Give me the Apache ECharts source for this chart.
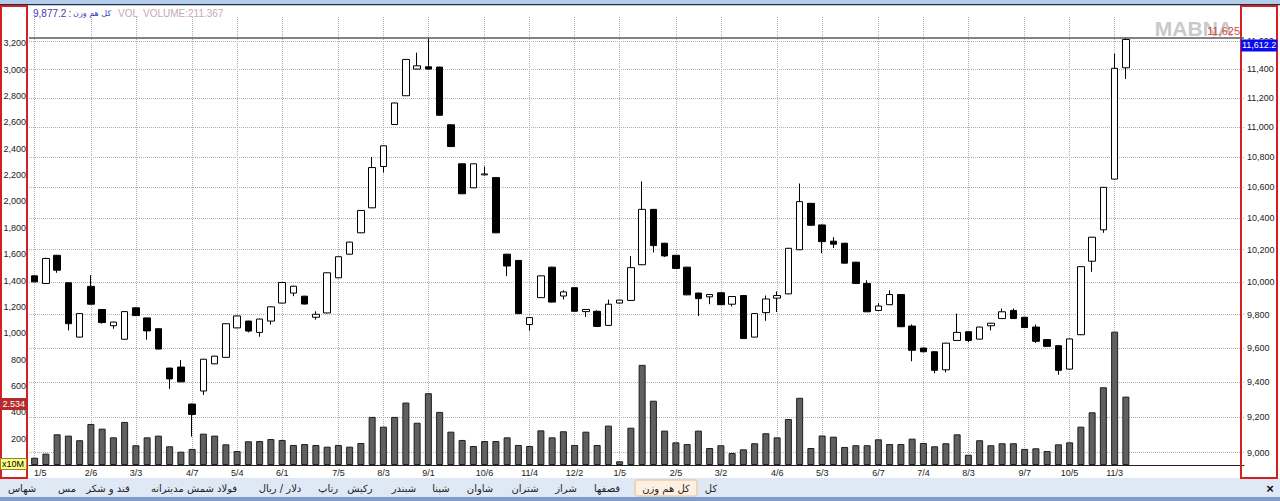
<!DOCTYPE html>
<html><head><meta charset="utf-8">
<script src="https://cdn.jsdelivr.net/npm/echarts@6/dist/echarts.min.js"></script>
<style>html,body{margin:0;padding:0;background:#fff;overflow:hidden}#c{width:1280px;height:501px}</style>
</head><body><div id="c"></div><script>
// ---- data ----
const tickLabels = ['1/5','2/6','3/3','4/7','5/4','6/1','7/5','8/3','9/1','10/6','11/4','12/2','1/5','2/5','3/2','4/6','5/3','6/7','7/4','8/3','9/7','10/5','11/3'];
const tickIndex  = [0,5,9,14,18,22,27,31,35,40,44,48,52,57,61,66,70,75,79,83,88,92,96];
const slotCount = 108;
const openP  = [10037,9990,10165,9994,9665,9972,9831,9733,9652,9841,9780,9715,9482,9488,9274,9349,9507,9545,9720,9761,9693,9761,9870,9931,9912,9784,9810,10025,10172,10307,10467,10737,11019,11216,11402,11418,11416,11017,10755,10597,10682,10664,10172,10133,9740,9903,10091,9913,9964,9818,9820,9735,9870,9886,10106,10457,10241,10165,10091,9931,9908,9933,9863,9916,9665,9812,9900,9926,10200,10496,10357,10254,10241,10122,9990,9825,9860,9922,9731,9600,9578,9472,9645,9697,9653,9733,9776,9825,9784,9725,9650,9614,9476,9679,10128,10326,10654,11411];
const closeP = [10000,10145,10072,9745,9806,9863,9752,9755,9818,9794,9702,9594,9419,9402,9215,9534,9552,9745,9792,9701,9773,9847,9996,9973,9864,9802,10056,10156,10248,10450,10730,10875,11166,11470,11425,11402,11082,10870,10558,10755,10688,10307,10098,9806,9782,10037,9876,9938,9820,9831,9729,9863,9888,10088,10457,10226,10161,10083,9920,9897,9922,9860,9910,9656,9806,9895,9916,10209,10507,10355,10251,10235,10116,9990,9817,9852,9922,9727,9587,9578,9469,9629,9693,9645,9725,9748,9817,9776,9722,9640,9610,9469,9654,10094,10279,10600,11407,11612.2];
const lowP   = [9998,9988,10056,9705,9663,9860,9746,9715,9650,9792,9650,9592,9361,9400,9090,9326,9505,9543,9718,9693,9667,9740,9868,9912,9862,9770,9808,10023,10170,10305,10465,10697,11017,11214,11400,11398,11080,10868,10556,10595,10678,10305,10035,9804,9704,9901,9874,9892,9818,9786,9727,9733,9868,9884,10104,10183,10155,10081,9918,9792,9863,9858,9850,9654,9663,9763,9816,9924,10198,10353,10178,10211,10114,9988,9815,9823,9858,9725,9522,9575,9451,9457,9643,9635,9651,9705,9774,9774,9720,9630,9608,9443,9474,9677,10062,10307,10652,11333];
const highP  = [10040,10150,10168,9996,9808,10041,9833,9757,9820,9843,9782,9717,9484,9529,9276,9536,9554,9747,9794,9763,9775,9849,9998,9975,9914,9820,10058,10158,10250,10452,10800,10877,11168,11472,11518,11625,11418,11019,10757,10757,10737,10666,10174,10135,9784,10039,10093,9948,9966,9833,9826,9891,9890,10160,10639,10459,10243,10167,10093,9933,9925,9935,9912,9918,9808,9916,9941,10211,10625,10498,10359,10279,10243,10124,10010,9870,9948,9924,9741,9602,9582,9631,9806,9699,9727,9750,9837,9837,9786,9740,9652,9616,9656,10096,10281,10602,11511,11625];
const volume = [55,86,233,223,188,311,276,210,327,150,210,223,142,101,122,238,223,157,106,180,182,197,190,152,159,152,139,152,139,167,365,291,365,474,321,545,403,253,190,144,182,182,210,152,144,263,210,256,152,253,152,299,28,283,760,488,261,172,159,261,129,150,91,119,165,241,210,349,510,129,224,215,137,150,150,195,159,159,200,167,142,165,233,78,188,150,165,165,122,127,106,157,172,291,400,590,1012,519];
const priceTicks = [9000,9200,9400,9600,9800,10000,10200,10400,10600,10800,11000,11200,11400,11600];
const priceMax = 11625, lastClose = 11612.2, volMarker = 463, volMarkerText = '2.534';
const tabs = ['شهاس','مس','قند و شکر','فولاد شمش مدیترانه','دلار / ریال','رتاپ','رکیش','شبندر','شپنا','شاوان','شتران','شراز','قصفها','کل هم وزن','کل'];
const activeTab = 'کل هم وزن';
const titleValue = '9,877.2';
const titleName = 'کل هم وزن';
const titleVol = 'VOL';
const titleVolume = 'VOLUME:211.367';
// ---- layout (styles/positions) ----
const tabCenters = [22,67,108,194,280,328,360,404,441,480,525,566,607,666,711];
const FONT = 'Tahoma, "DejaVu Sans", sans-serif';
const AFONT = '"Liberation Sans", Arial, sans-serif';
const HIDDEN = {width:0, color:'rgba(0,0,0,0)'};

const cats = []; const labelOf = {};
for (let i = 0; i < slotCount; i++) cats.push('w' + i);
tickIndex.forEach((ix, k) => { labelOf[ix] = tickLabels[k]; });
const candles = openP.map((o, i) => [o, closeP[i], lowP[i], highP[i]]);
const fmt = v => Math.round(v).toLocaleString('en-US');

const chart = echarts.init(document.getElementById('c'), null, {renderer: 'svg'});
const gridLine = {type: 'dotted', color: '#b0b0b0', width: 1};

const graphics = [
  {type:'rect', shape:{x:0,y:0,width:1280,height:4}, style:{fill:'#b4cdeb'}, z:1},
  {type:'rect', shape:{x:0,y:4,width:1280,height:1.2}, style:{fill:'#1c2c4c'}, z:1},
  {type:'rect', shape:{x:0,y:478,width:1280,height:19}, style:{fill:'#dfe9f6'}, z:1},
  {type:'rect', shape:{x:0,y:497,width:1280,height:4}, style:{fill:'#7d9ccb'}, z:1},
  {type:'rect', shape:{x:1,y:6,width:26,height:472}, style:{fill:'none', stroke:'#d42020', lineWidth:2}, z:50},
  {type:'rect', shape:{x:1241,y:6,width:36,height:472}, style:{fill:'none', stroke:'#d42020', lineWidth:2}, z:50},
  {type:'rect', shape:{x:0.5,y:458.5,width:26,height:11}, style:{fill:'#ffff88', stroke:'#8a8a20', lineWidth:1}, z:60},
  {type:'text', x:13, y:464, style:{text:'x10M', font:'9px ' + AFONT, fill:'#000', align:'center', verticalAlign:'middle'}, z:61},
  {type:'text', x:33, y:13, style:{text:titleValue, font:'10px ' + AFONT, fill:'#3a3ab8', align:'left', verticalAlign:'middle'}, z:60},
  {type:'text', x:70, y:13, style:{text:':', font:'10px ' + AFONT, fill:'#3a3ab8', align:'center', verticalAlign:'middle'}, z:60},
  {type:'text', x:73, y:13, style:{text:titleName, font:'8px ' + FONT, fill:'#3a3ab8', align:'left', verticalAlign:'middle'}, z:60},
  {type:'text', x:118, y:13, style:{text:titleVol, font:'10px ' + AFONT, fill:'#c9a6b6', align:'left', verticalAlign:'middle'}, z:60},
  {type:'text', x:143, y:13, style:{text:titleVolume, font:'10px ' + AFONT, fill:'#c9a6b6', align:'left', verticalAlign:'middle'}, z:60},
  {type:'text', x:1233, y:28, style:{text:'MABNA', font:'bold 21px ' + AFONT, fill:'#c9c9c9', align:'right', verticalAlign:'middle'}, z:3},
  {type:'text', x:1270, y:488, style:{text:'×', font:'bold 13px ' + AFONT, fill:'#111', align:'center', verticalAlign:'middle'}, z:60}
];
tabs.forEach((t, k) => {
  if (t === activeTab) {
    graphics.push({type:'rect', shape:{x:tabCenters[k]-31, y:480, width:62, height:16, r:2}, style:{fill:'#fdf0e2', stroke:'#e6be8e', lineWidth:1}, z:55});
  }
  graphics.push({type:'text', x:tabCenters[k], y:488, style:{text:t, font:'10px ' + FONT, fill:'#222', align:'center', verticalAlign:'middle'}, z:60});
});

chart.setOption({
  animation: false,
  backgroundColor: '#fff',
  grid: {left: 29, right: 36, top: 17, bottom: 36, containLabel: false},
  xAxis: [
    {type:'category', data: cats, boundaryGap: true, gridIndex:0,
     axisLine:{show:true, lineStyle:{color:'#222', width:1}}, axisTick:{show:false}, splitLine:{show:false},
     axisLabel:{interval:0, margin:3, fontSize:9, color:'#222', fontFamily:AFONT,
       formatter:(v, i) => labelOf[i] ? (i === 0 ? '{f|' + labelOf[i] + '}' : labelOf[i]) : '',
       rich:{f:{padding:[0,0,0,11], fontSize:9, color:'#222', fontFamily:AFONT}}}},
    {type:'value', min:-0.5, max:slotCount - 0.5, gridIndex:0, position:'bottom',
     axisLine:{show:false}, axisTick:{show:false, customValues: tickIndex}, axisLabel:{show:false, customValues: tickIndex},
     splitLine:{show:true, lineStyle:gridLine}}
  ],
  yAxis: [
    {type:'value', min:0, max:3400, interval:200, position:'left', gridIndex:0,
     axisLine:{show:false}, axisTick:{show:false}, splitLine:{show:false},
     axisLabel:{margin:3, fontSize:9, color:'#222', fontFamily:AFONT, formatter: v => (v === 0 || v === 3400) ? '' : fmt(v)}},
    {type:'log', logBase:10, min:8932, max:11774, position:'right', gridIndex:0,
     axisLine:{show:false}, axisTick:{show:false, customValues: priceTicks},
     axisLabel:{customValues: priceTicks, margin:3, fontSize:9, color:'#222', fontFamily:AFONT, formatter: v => fmt(v)},
     splitLine:{show:true, lineStyle:gridLine}}
  ],
  graphic: graphics,
  series: [
    {type:'bar', name:'volume', xAxisIndex:0, yAxisIndex:0, data: volume, barWidth:7, z:2,
     itemStyle:{color:'#606060', borderColor:'#1e1e1e', borderWidth:1},
     markLine:{symbol:'none', silent:true, animation:false, z:70,
       data:[{yAxis: volMarker, lineStyle: HIDDEN, label:{show:true, position:'start', distance:1, formatter: volMarkerText,
         color:'#fff', backgroundColor:'#b52a2a', fontSize:9, fontFamily:AFONT, padding:[2,3,1,3]}}]}},
    {type:'candlestick', name:'price', xAxisIndex:0, yAxisIndex:1, data: candles, barWidth:7, z:3,
     itemStyle:{color:'#ffffff', color0:'#000000', borderColor:'#000000', borderColor0:'#000000', borderWidth:1},
     markLine:{symbol:'none', silent:true, animation:false, z:70,
       data:[
         {yAxis: priceMax, lineStyle:{color:'#5a5a5a', width:1.6, type:'solid'},
          label:{show:true, position:'insideEndTop', distance:[4,1], formatter: fmt(priceMax), color:'#d84a3a', fontSize:11, fontFamily:AFONT}},
         {yAxis: lastClose, lineStyle: HIDDEN,
          label:{show:true, position:'end', distance:-3, offset:[0,6], formatter: lastClose.toLocaleString('en-US',{minimumFractionDigits:1}),
           color:'#fff', backgroundColor:'#0a0af0', fontSize:9, fontFamily:AFONT, padding:[2,1,1,1]}}
       ]}}
  ]
});
</script></body></html>
